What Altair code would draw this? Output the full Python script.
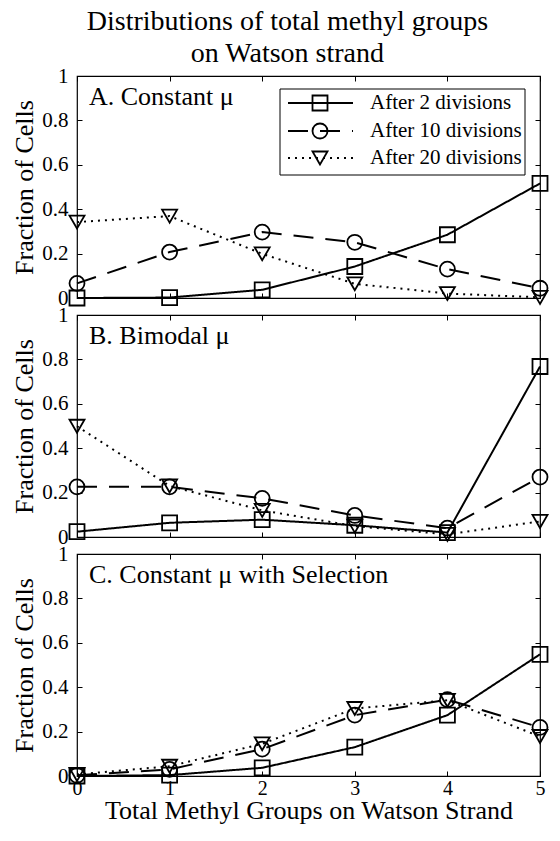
import altair as alt
import pandas as pd

# ---------------- data ----------------
x_groups = [0, 1, 2, 3, 4, 5]
series_names = ["After 2 divisions", "After 10 divisions", "After 20 divisions"]
panel_labels = ["A. Constant \u03bc", "B. Bimodal \u03bc", "C. Constant \u03bc with Selection"]
y_ticks = [0, 0.2, 0.4, 0.6, 0.8, 1]

a_2div = [0.000, 0.002, 0.037, 0.142, 0.285, 0.516]
a_10div = [0.066, 0.207, 0.297, 0.251, 0.130, 0.044]
a_20div = [0.342, 0.369, 0.199, 0.064, 0.020, 0.003]

b_2div = [0.024, 0.064, 0.078, 0.053, 0.020, 0.768]
b_10div = [0.226, 0.226, 0.174, 0.097, 0.040, 0.270]
b_20div = [0.499, 0.230, 0.120, 0.049, 0.012, 0.070]

c_2div = [0.000, 0.004, 0.037, 0.130, 0.274, 0.548]
c_10div = [0.003, 0.030, 0.121, 0.274, 0.344, 0.219]
c_20div = [0.007, 0.044, 0.145, 0.304, 0.341, 0.178]

# ---------------- style ----------------
FONT = "Liberation Serif, Times New Roman, serif"
W, H = 463, 222

dash_scale = alt.Scale(domain=series_names, range=[[1, 0], [20, 12], [2, 5]])
shape_scale = alt.Scale(domain=series_names, range=["square", "circle", "triangle-down"])
x_scale = alt.Scale(domain=[0, 5], nice=False, zero=False)
y_scale = alt.Scale(domain=[0, 1], nice=False)


def long_df(cols):
    rows = []
    for s, vals in zip(series_names, cols):
        for x, v in zip(x_groups, vals):
            rows.append({"x": x, "value": v, "series": s})
    return pd.DataFrame(rows)


def panel(cols, label, bottom_panel, with_legend):
    df = long_df(cols)
    base = alt.Chart(df)

    if bottom_panel:
        x_axis = alt.Axis(values=x_groups, format="d", labels=True,
                          title="Total Methyl Groups on Watson Strand",
                          titleFontSize=26, labelFontSize=20, labelPadding=2,
                          titlePadding=-1, tickSize=5, offset=-5, domain=False,
                          grid=False, labelFlush=False, labelOverlap=False)
    else:
        x_axis = alt.Axis(values=x_groups, labels=False, title=None,
                          tickSize=5, offset=-5, domain=False, grid=False)

    y_axis = alt.Axis(values=y_ticks, format="~g", title="Fraction of Cells",
                      titleFontSize=26, labelFontSize=21, labelPadding=9,
                      titlePadding=4, tickSize=5, offset=-5, domain=False,
                      grid=False, labelFlush=False, labelOverlap=False)

    lines = base.mark_line(color="black", strokeWidth=2).encode(
        x=alt.X("x:Q", scale=x_scale, axis=x_axis),
        y=alt.Y("value:Q", scale=y_scale, axis=y_axis),
        strokeDash=alt.StrokeDash("series:N", scale=dash_scale, legend=None),
        detail="series:N",
    )
    points = base.mark_point(filled=False, color="black", strokeWidth=1.8,
                             size=225, opacity=1).encode(
        x=alt.X("x:Q", axis=None),
        y=alt.Y("value:Q", axis=None),
        shape=alt.Shape("series:N", scale=shape_scale, legend=None),
    )
    mirror = base.mark_point(opacity=0).encode(
        x=alt.X("x:Q", axis=alt.Axis(orient="top", values=x_groups, labels=False,
                                     title=None, tickSize=5, offset=-5,
                                     domain=False, grid=False)),
        y=alt.Y("value:Q", axis=alt.Axis(orient="right", values=y_ticks,
                                         labels=False, title=None, tickSize=5,
                                         offset=-5, domain=False, grid=False)),
    )
    text = alt.Chart(pd.DataFrame({"label": [label]})).mark_text(
        align="left", baseline="middle", font=FONT, fontSize=26, color="black"
    ).encode(x=alt.value(12), y=alt.value(21), text="label:N")

    layers = [lines, points, mirror, text]

    if with_legend:
        box = alt.Chart(pd.DataFrame({"k": [0]})).mark_rect(
            fill="white", stroke="black", strokeWidth=1
        ).encode(x=alt.value(203), x2=alt.value(448), y=alt.value(13), y2=alt.value(99))
        layers.append(box)
        row_y = [27, 55, 82]
        leg_df = pd.DataFrame({"series": series_names})
        for i, s in enumerate(series_names):
            row = alt.Chart(leg_df).transform_filter(alt.datum.series == s)
            layers.append(row.mark_rule(color="black", strokeWidth=2).encode(
                x=alt.value(211), x2=alt.value(276), y=alt.value(row_y[i]),
                strokeDash=alt.StrokeDash("series:N", scale=dash_scale, legend=None)))
            layers.append(row.mark_point(filled=False, color="black", strokeWidth=1.8,
                                         size=225, opacity=1).encode(
                x=alt.value(243), y=alt.value(row_y[i]),
                shape=alt.Shape("series:N", scale=shape_scale, legend=None)))
            layers.append(row.mark_text(align="left", baseline="middle", font=FONT,
                                        fontSize=21, color="black").encode(
                x=alt.value(293), y=alt.value(row_y[i]), text="series:N"))

    return alt.layer(*layers).resolve_axis(x="independent", y="independent").properties(
        width=W, height=H)


pA = panel([a_2div, a_10div, a_20div], panel_labels[0], False, True)
pB = panel([b_2div, b_10div, b_20div], panel_labels[1], False, False)
pC = panel([c_2div, c_10div, c_20div], panel_labels[2], True, False)

chart = alt.vconcat(pA, pB, pC, spacing=17).properties(
    title=alt.TitleParams(["Distributions of total methyl groups", "on Watson strand"],
                          anchor="middle", offset=-4, dx=6),
    bounds="flush",
    padding={"left": 3, "top": 0, "right": 0, "bottom": 0},
).configure_view(
    stroke="black", strokeWidth=1.2
).configure_axis(
    labelFont=FONT, titleFont=FONT, labelColor="black", titleColor="black",
    tickColor="black", titleFontWeight="normal"
).configure_title(
    font=FONT, fontSize=28, fontWeight="normal", color="black", lineHeight=32
)

chart.save("out.html", embed_options={"renderer": "svg", "actions": False})
